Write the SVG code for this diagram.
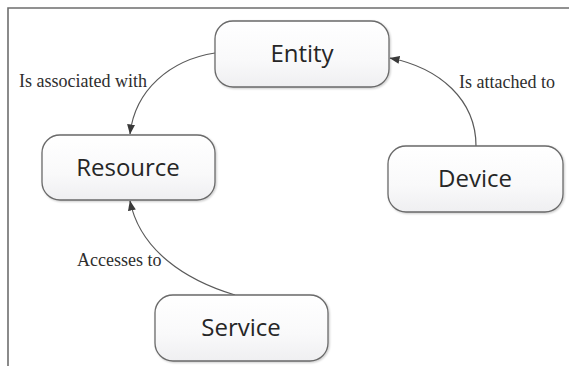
<svg xmlns="http://www.w3.org/2000/svg" width="569" height="366" viewBox="0 0 569 366">
  <defs>
    <linearGradient id="boxFill" x1="0" y1="0" x2="0" y2="1">
      <stop offset="0" stop-color="#ffffff"/>
      <stop offset="0.6" stop-color="#f9f9fa"/>
      <stop offset="1" stop-color="#efeff1"/>
    </linearGradient>
    <filter id="shadow" x="-10%" y="-10%" width="125%" height="130%">
      <feGaussianBlur in="SourceAlpha" stdDeviation="1"/>
      <feOffset dx="1" dy="1.2" result="off"/>
      <feComponentTransfer><feFuncA type="linear" slope="0.22"/></feComponentTransfer>
      <feMerge><feMergeNode/><feMergeNode in="SourceGraphic"/></feMerge>
    </filter>
    <marker id="arrow" viewBox="0 0 10 8" refX="9.5" refY="4" markerWidth="10" markerHeight="8" markerUnits="userSpaceOnUse" orient="auto">
      <path d="M0,0 L10,4 L0,8 Z" fill="#3a3a3a"/>
    </marker>
  </defs>
  <style>
    .frame { stroke: #6e6e6e; stroke-width: 1.6; fill: none; }
    .box { fill: url(#boxFill); stroke: #6a6a6a; stroke-width: 1.3; filter: url(#shadow); }
    .name { font-family: "Open Sans", "Noto Sans", sans-serif; font-size: 24px; fill: #262626; text-anchor: middle; }
    .edge { fill: none; stroke: #5a5a5a; stroke-width: 1.2; marker-end: url(#arrow); }
    .label { font-family: "Liberation Serif", "Times New Roman", serif; font-size: 18px; fill: #2e2e2e; }
  </style>

  <rect width="569" height="366" fill="#ffffff"/>
  <!-- frame: top and left rules only -->
  <path class="frame" d="M8,366 L8,8 L569,8"/>

  <g id="connectors">
    <path class="edge" d="M215,53 C170,60 135,90 130,134"/>
    <path class="edge" d="M476,146 C476,100 440,68 390,58"/>
    <path class="edge" d="M235,295 C185,280 140,250 130,201"/>
    <text class="label" x="19" y="87">Is associated with</text>
    <text class="label" x="459" y="88">Is attached to</text>
    <text class="label" x="77" y="266">Accesses to</text>
  </g>

  <g id="entity">
    <rect class="box" x="215" y="21" width="174" height="66" rx="18"/>
    <text class="name" x="302" y="62">Entity</text>
  </g>
  <g id="resource">
    <rect class="box" x="42" y="135" width="173" height="65" rx="18"/>
    <text class="name" x="128" y="176">Resource</text>
  </g>
  <g id="device">
    <rect class="box" x="388" y="146" width="175" height="66" rx="18"/>
    <text class="name" x="475" y="187">Device</text>
  </g>
  <g id="service">
    <rect class="box" x="155" y="295" width="173" height="66" rx="18"/>
    <text class="name" x="241" y="336">Service</text>
  </g>
</svg>
